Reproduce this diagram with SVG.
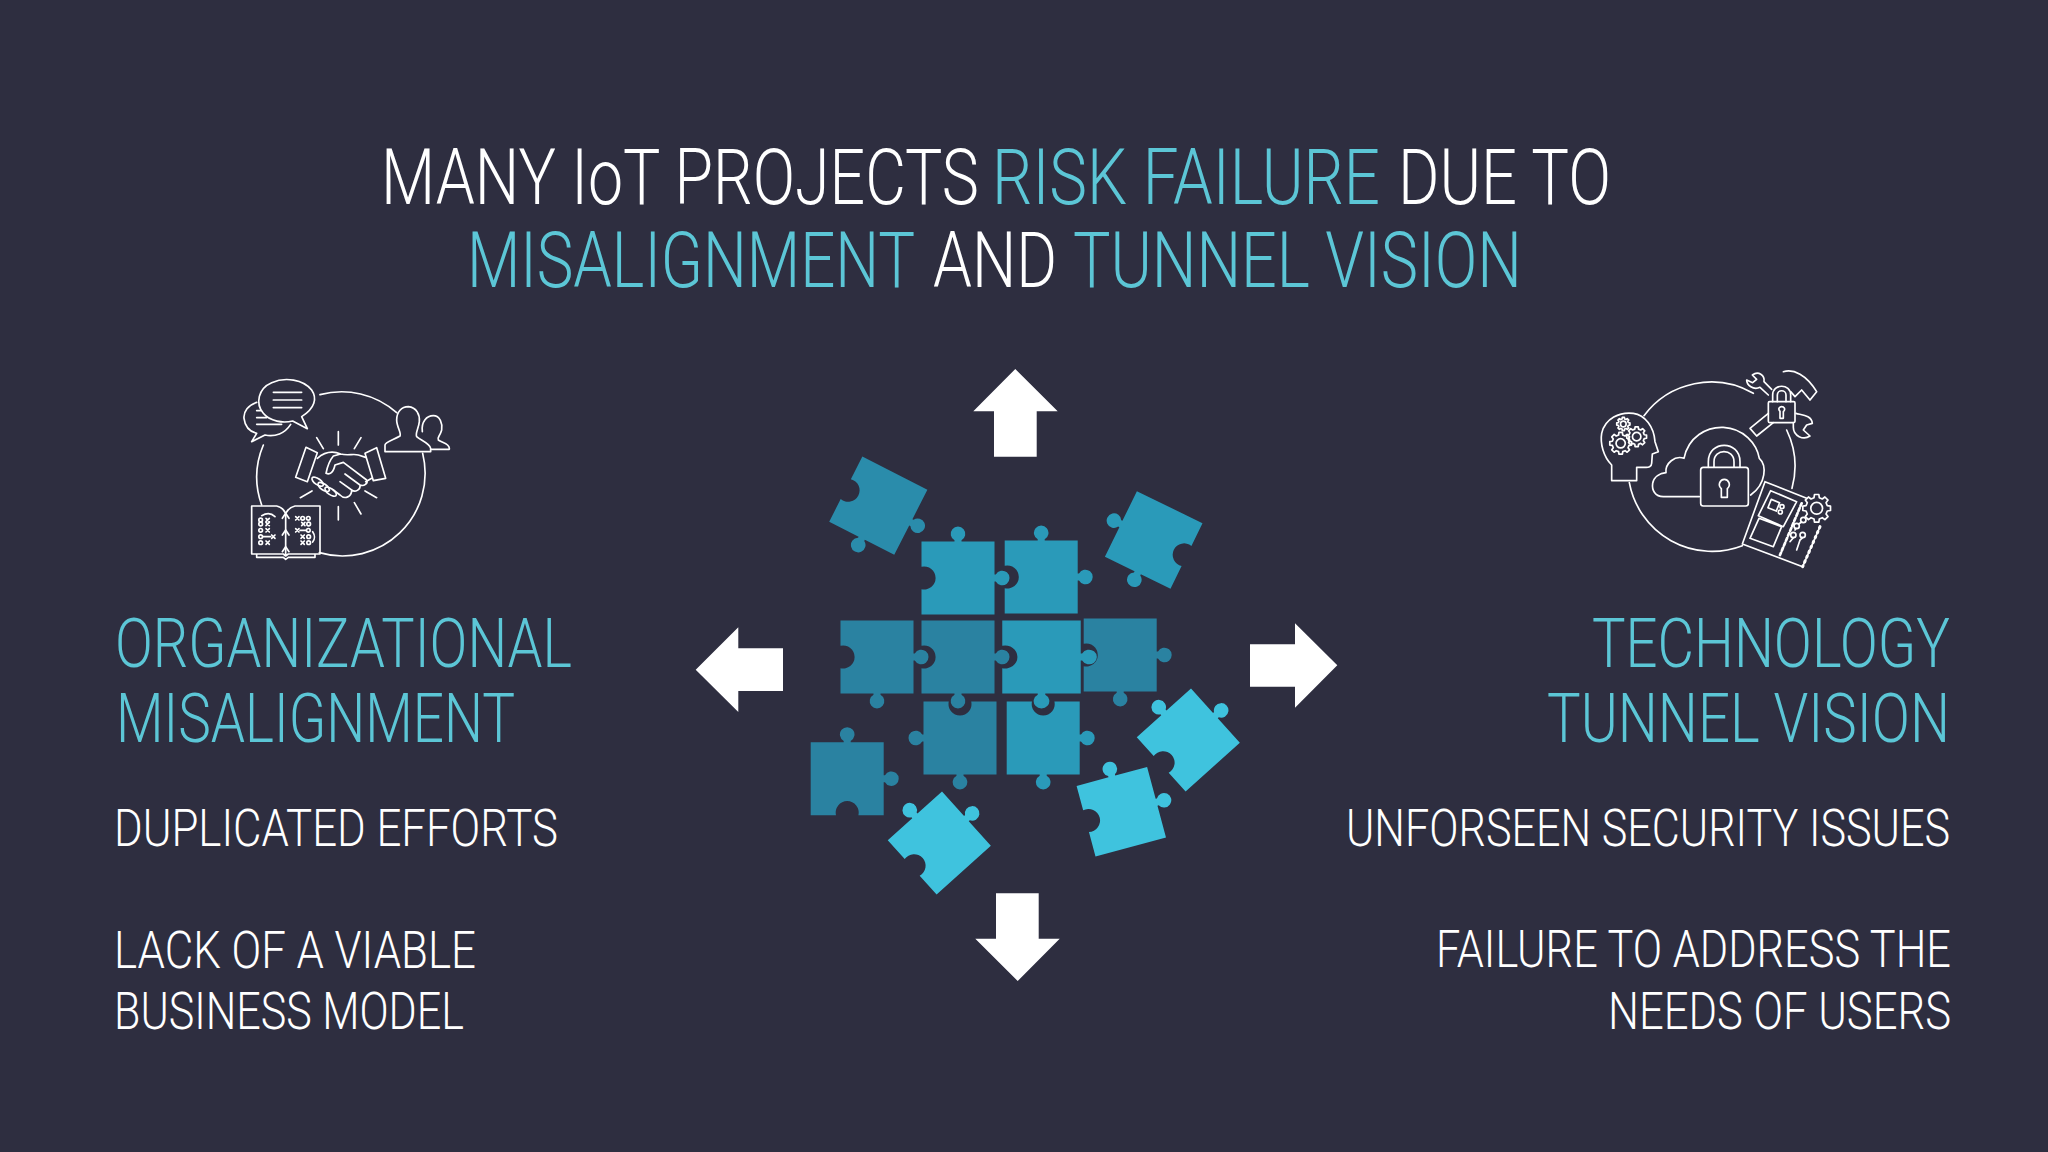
<svg xmlns="http://www.w3.org/2000/svg" width="2048" height="1152" viewBox="0 0 2048 1152">
<style>
text{font-family:"Roboto","Liberation Sans",sans-serif;font-weight:300;fill:#fff;transform:scaleX(.8)}
.t{fill:#5cc6d6}
.h1{font-size:77px}
.h2{font-size:69px}
.b{font-size:52px}
.ic{fill:none;stroke:#fff;stroke-width:5;stroke-linejoin:round;stroke-linecap:round}
.gear{fill:none;stroke:#fff;stroke-width:1.7;stroke-linejoin:round;vector-effect:non-scaling-stroke}
.bright{fill:#3fc3de}.mid{fill:#2a9ab9}.dark{fill:#2a82a1}.dk2{fill:#2a8cab}
.arrow{fill:#fff}
</style>
<defs>
<path id="pA" d="M-36.5 -36.5L36.5 -36.5L36.5 -3.5 37.8 -3.5A7.3 7.3 0 1 1 37.8 3.5L36.5 3.5L36.5 36.5L3.5 36.5 3.5 37.8A7.3 7.3 0 1 1 -3.5 37.8L-3.5 36.5L-36.5 36.5L-36.5 11.2A11.5 11.5 0 1 0 -36.5 -11.2Z"/>
<path id="pB" d="M-36.5 -36.5L-3.5 -36.5 -3.5 -37.8A7.3 7.3 0 1 1 3.5 -37.8L3.5 -36.5L36.5 -36.5L36.5 -3.5 37.8 -3.5A7.3 7.3 0 1 1 37.8 3.5L36.5 3.5L36.5 36.5L-36.5 36.5L-36.5 11.2A11.5 11.5 0 1 0 -36.5 -11.2Z"/>
<path id="pC" d="M-36.5 -36.5L36.5 -36.5L36.5 -11.2A11.5 11.5 0 1 0 36.5 11.2L36.5 36.5L3.5 36.5 3.5 37.8A7.3 7.3 0 1 1 -3.5 37.8L-3.5 36.5L-36.5 36.5L-36.5 3.5 -37.8 3.5A7.3 7.3 0 1 1 -37.8 -3.5L-36.5 -3.5Z"/>
<path id="pE" d="M-36.5 -36.5L-11.2 -36.5A11.5 11.5 0 1 0 11.2 -36.5L36.5 -36.5L36.5 36.5L3.5 36.5 3.5 37.8A7.3 7.3 0 1 1 -3.5 37.8L-3.5 36.5L-36.5 36.5L-36.5 3.5 -37.8 3.5A7.3 7.3 0 1 1 -37.8 -3.5L-36.5 -3.5Z"/>
<path id="pF" d="M-36.5 -36.5L-11.2 -36.5A11.5 11.5 0 1 0 11.2 -36.5L36.5 -36.5L36.5 -3.5 37.8 -3.5A7.3 7.3 0 1 1 37.8 3.5L36.5 3.5L36.5 36.5L3.5 36.5 3.5 37.8A7.3 7.3 0 1 1 -3.5 37.8L-3.5 36.5L-36.5 36.5Z"/>
<path id="pG" d="M-36.5 -36.5L-3.5 -36.5 -3.5 -37.8A7.3 7.3 0 1 1 3.5 -37.8L3.5 -36.5L36.5 -36.5L36.5 -3.5 37.8 -3.5A7.3 7.3 0 1 1 37.8 3.5L36.5 3.5L36.5 36.5L11.2 36.5A11.5 11.5 0 1 0 -11.2 36.5L-36.5 36.5Z"/>
<path id="pH" d="M-36.5 -36.5L-3.5 -36.5 -3.5 -37.8A7.3 7.3 0 1 1 3.5 -37.8L3.5 -36.5L36.5 -36.5L36.5 36.5L11.2 36.5A11.5 11.5 0 1 0 -11.2 36.5L-36.5 36.5L-36.5 3.5 -37.8 3.5A7.3 7.3 0 1 1 -37.8 -3.5L-36.5 -3.5Z"/>
<g id="gear"><path class="gear" d="M7.57 -1.89L9.88 -1.56 9.88 1.56 7.57 1.89 6.69 4.02 8.09 5.88 5.88 8.09 4.02 6.69 1.89 7.57 1.56 9.88 -1.56 9.88 -1.89 7.57 -4.02 6.69 -5.88 8.09 -8.09 5.88 -6.69 4.02 -7.57 1.89 -9.88 1.56 -9.88 -1.56 -7.57 -1.89 -6.69 -4.02 -8.09 -5.88 -5.88 -8.09 -4.02 -6.69 -1.89 -7.57 -1.56 -9.88 1.56 -9.88 1.89 -7.57 4.02 -6.69 5.88 -8.09 8.09 -5.88 6.69 -4.02Z"/><circle class="gear" r="4.2"/></g>
<circle id="o" r="5.5"/>
<path id="x" d="M-5 -5L5 5M5 -5L-5 5"/>
</defs>
<rect width="2048" height="1152" fill="#2e2e40"/>

<g id="title">
<text class="h1" y="204"><tspan x="476.25" textLength="747.5" lengthAdjust="spacingAndGlyphs">MANY IoT PROJECTS</tspan> <tspan class="t" x="1240" textLength="485" lengthAdjust="spacingAndGlyphs">RISK FAILURE</tspan> <tspan x="1747.5" textLength="266.25" lengthAdjust="spacingAndGlyphs">DUE TO</tspan></text>
<text class="h1" y="287"><tspan class="t" x="583.75" textLength="560" lengthAdjust="spacingAndGlyphs">MISALIGNMENT</tspan> <tspan x="1166.25" textLength="155" lengthAdjust="spacingAndGlyphs">AND</tspan> <tspan class="t" x="1341.25" textLength="561.25" lengthAdjust="spacingAndGlyphs">TUNNEL VISION</tspan></text>
</g>

<g id="left-text">
<text class="h2 t" x="143.75" y="667" textLength="571.25" lengthAdjust="spacingAndGlyphs">ORGANIZATIONAL</text>
<text class="h2 t" x="145" y="742" textLength="498.75" lengthAdjust="spacingAndGlyphs">MISALIGNMENT</text>
<text class="b" x="142.5" y="846" textLength="555" lengthAdjust="spacingAndGlyphs">DUPLICATED EFFORTS</text>
<text class="b" x="142.5" y="968" textLength="452.5" lengthAdjust="spacingAndGlyphs">LACK OF A VIABLE</text>
<text class="b" x="142.5" y="1029" textLength="437.5" lengthAdjust="spacingAndGlyphs">BUSINESS MODEL</text>
</g>

<g id="right-text">
<text class="h2 t" x="1990" y="667" textLength="447.5" lengthAdjust="spacingAndGlyphs">TECHNOLOGY</text>
<text class="h2 t" x="1933.75" y="742" textLength="503.75" lengthAdjust="spacingAndGlyphs">TUNNEL VISION</text>
<text class="b" x="1682.5" y="846" textLength="755" lengthAdjust="spacingAndGlyphs">UNFORSEEN SECURITY ISSUES</text>
<text class="b" x="1795" y="967" textLength="643.75" lengthAdjust="spacingAndGlyphs">FAILURE TO ADDRESS THE</text>
<text class="b" x="2010" y="1029" textLength="428.75" lengthAdjust="spacingAndGlyphs">NEEDS OF USERS</text>
</g>

<g id="puzzle">
<use href="#pA" class="dk2" transform="translate(878.3 505.7) rotate(27)"/>
<use href="#pC" class="mid" transform="translate(1153.7 540) rotate(26)"/>
<use href="#pE" class="dark" transform="translate(960 738)"/>
<use href="#pF" class="mid" transform="translate(1043.2 738)"/>
<use href="#pG" class="dark" transform="translate(847.2 778.7)"/>
<use href="#pH" class="bright" transform="translate(939.3 843) rotate(48)"/>
<use href="#pB" class="bright" transform="translate(1121.3 811.7) rotate(-15)"/>
<use href="#pH" class="bright" transform="translate(1188.3 740) rotate(48)"/>
<use href="#pA" class="dark" transform="translate(1120.2 655)"/>
<use href="#pA" class="mid" transform="translate(1041.5 657) scale(1.075 1)"/>
<use href="#pA" class="dark" transform="translate(958 657)"/>
<use href="#pA" class="dark" transform="translate(877 657)"/>
<use href="#pB" class="mid" transform="translate(1041.2 577)"/>
<use href="#pB" class="mid" transform="translate(958 578)"/>
</g>

<g id="arrows">
<polygon id="arrow-left" class="arrow" points="695.7,669.7 738.3,627.3 738.3,648.3 783,648.3 783,691 738.3,691 738.3,712"/>
<polygon id="arrow-right" class="arrow" points="1337.3,665.3 1295,623.3 1295,644.3 1250,644.3 1250,686.7 1295,686.7 1295,707.7"/>
<polygon id="arrow-up" class="arrow" points="1015.3,369 973.3,411.3 994,411.3 994,456.7 1036.7,456.7 1036.7,411.3 1057.7,411.3"/>
<polygon id="arrow-down" class="arrow" points="1017.7,981 975.3,938.7 996,938.7 996,893.3 1038.7,893.3 1038.7,938.7 1059.7,938.7"/>
</g>

<g id="icon-left" class="ic" transform="translate(220 350) scale(.33333)">
<path d="M300 134A248 248 0 0 1 530 188M608 310A248 248 0 0 1 298 608M125 465A248 248 0 0 1 130 285"/>
<path d="M245 200L262 236 218 213C190 220 150 215 130 190C105 160 115 115 155 98C195 80 250 88 275 120C292 145 285 175 245 200Z"/>
<path d="M110 157C85 165 70 185 72 205C75 230 90 245 110 250L95 275 135 255C165 262 195 250 212 223"/>
<path d="M160 127H245M160 150H245M160 173H245M110 182H122M110 203H140M110 223H185"/>
<path d="M495 305V285C495 275 520 270 540 258C545 250 530 230 530 210C530 185 545 170 565 170C590 172 600 195 598 215C596 235 585 250 590 260C600 270 630 280 632 295V305Z"/>
<path d="M607 245C603 215 620 197 640 197C660 197 668 220 665 240C660 260 650 262 655 270C665 278 688 280 688 295V298H632"/>
<path d="M258 292L292 308 262 395 227 382ZM435 310L470 293 497 385 460 392Z"/>
<path d="M292 325C315 305 340 303 362 312C385 318 400 310 415 315L437 322M362 312L340 318C330 330 322 350 318 370C330 375 340 368 345 345L370 337 440 390C445 400 432 410 420 405L375 372M420 405C422 420 405 428 395 420L360 395M395 420C395 440 375 450 360 435L340 420M437 395L455 385"/>
<ellipse cx="293" cy="395" rx="20" ry="9" transform="rotate(35 293 395)"/>
<ellipse cx="311" cy="411" rx="20" ry="9" transform="rotate(35 311 411)"/>
<ellipse cx="332" cy="425" rx="20" ry="9" transform="rotate(35 332 425)"/>
<path d="M290 263L310 296M355 245V285M423 263L403 296M241 443L276 423M470 443L435 423M355 470V510M403 458L423 492"/>
<path d="M197 490C190 475 180 470 170 468H95V612H190L197 618 205 612H300V468H225C215 470 205 475 197 490V618M110 612V622H190L197 628 205 622H285V612"/>
<path d="M187 505L197 490 207 505M187 555L197 540 207 555M187 605L197 590 207 605"/>
<use href="#o" x="122" y="510"/><use href="#x" x="143" y="510"/>
<use href="#o" x="122" y="522"/><use href="#x" x="143" y="522"/>
<use href="#o" x="122" y="541"/><use href="#x" x="143" y="541"/>
<use href="#o" x="122" y="560"/><use href="#x" x="160" y="560"/>
<use href="#o" x="122" y="578"/><use href="#x" x="143" y="578"/>
<path d="M128 560H152M125 497C140 488 155 490 165 500"/>
<use href="#x" x="232" y="505"/><use href="#o" x="248" y="505"/><use href="#o" x="265" y="505"/>
<use href="#x" x="250" y="522"/><use href="#o" x="266" y="522"/>
<use href="#x" x="232" y="541"/><use href="#o" x="265" y="541"/>
<use href="#x" x="248" y="560"/><use href="#o" x="266" y="560"/>
<use href="#x" x="248" y="578"/><use href="#o" x="266" y="578"/>
<path d="M240 541H258M278 545C285 555 285 568 278 576"/>
</g>

<g id="icon-right" class="ic" transform="translate(1580 350) scale(.33333)">
<path d="M192 197A252 252 0 0 1 520 130M620 240A252 252 0 0 1 636 415M487 587A252 252 0 0 1 148 398"/>
<path d="M95 392V345C70 320 60 280 65 250C75 205 120 185 160 190C195 195 222 230 225 275L235 305 217 312 215 340C215 350 205 353 195 352H170V392Z"/>
<use href="#gear" transform="translate(122 280) scale(3.3)"/>
<use href="#gear" transform="translate(170 260) scale(3)"/>
<use href="#gear" transform="translate(130 222) scale(2)"/>
<rect x="565" y="155" width="80" height="63" rx="4"/>
<path d="M578 155V135C578 100 632 100 632 135V155M592 155V135C592 118 618 118 618 135V155"/>
<path d="M600 184C592 175 600 170 605 170C612 170 618 177 610 185V205H600Z"/>
<path d="M565 135L540 112C520 122 500 105 500 90L518 98 530 88 517 75C535 62 555 75 552 95L575 118"/>
<path d="M610 65C640 55 680 75 710 125L690 150 665 120 645 140 632 125"/>
<path d="M565 190L510 235 530 258 580 218"/>
<path d="M648 190C665 195 695 195 697 220L680 225 670 240 690 258C670 272 640 258 640 232V218"/>
<path d="M358 440H250C225 440 215 420 218 400C222 380 240 370 258 368C255 340 285 315 312 325C325 260 380 230 430 232C490 235 530 280 538 325C560 345 560 400 512 435"/>
<rect x="362" y="352" width="143" height="116" rx="8"/>
<path d="M385 352V335C385 270 480 270 480 335V352M402 352V335C402 295 462 295 462 335V352"/>
<path d="M424 416C412 405 420 388 433 388C446 388 454 405 442 416V442H424Z"/>
<path d="M555 395L680 445M720 530L668 650 487 582 555 395"/>
<use href="#gear" transform="translate(710 475) scale(4.2)"/>
<path d="M572 422L650 455 610 530 535 497ZM537 505L605 530 580 590 510 565Z"/>
<rect x="568" y="452" width="27" height="27" transform="rotate(22 581 465)"/>
<circle cx="606" cy="470" r="6"/><circle cx="601" cy="486" r="6"/>
<path d="M665 460L600 615" stroke-dasharray="9 7" stroke-width="8"/>
<path d="M720 530L668 650" stroke-dasharray="4 12" stroke-width="9"/>
<circle cx="650" cy="528" r="8"/><circle cx="670" cy="510" r="8"/><circle cx="640" cy="555" r="8"/><circle cx="668" cy="555" r="8"/>
<path d="M656 522L665 516M645 540L648 535M660 570L668 563M630 575L640 563M650 600L660 570"/>
</g>
</svg>
